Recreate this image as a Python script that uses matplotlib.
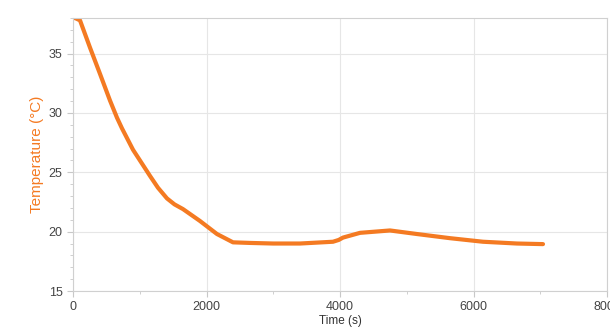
import matplotlib.pyplot as plt
from matplotlib.ticker import MultipleLocator

plt.rcParams['font.family'] = ['Liberation Sans', 'DejaVu Sans']

# time (s) and temperature (deg C)
time_s = [0, 30, 105, 255, 404, 554, 659, 734, 899, 1153, 1273, 1408, 1520,
          1648, 1902, 2157, 2397, 2651, 3000, 3400, 3895, 3980, 4045, 4300,
          4749, 5153, 5648, 6142, 6651, 7041]
temp_c = [38.0, 38.0, 37.8, 35.5, 33.3, 31.05, 29.6, 28.7, 26.9, 24.7, 23.7,
          22.8, 22.3, 21.9, 20.9, 19.8, 19.1, 19.05, 19.0, 19.0, 19.15, 19.3,
          19.5, 19.9, 20.1, 19.8, 19.45, 19.15, 19.0, 18.95]

fig = plt.figure(figsize=(6.1, 3.36), dpi=100)
ax = fig.add_axes([73 / 610, 45 / 336, 534 / 610, 273 / 336])

ax.plot(time_s, temp_c, color='#f47a22', lw=3,
        solid_capstyle='round', solid_joinstyle='round')

ax.set_xlim(0, 8000)
ax.set_ylim(15, 38)
ax.xaxis.set_major_locator(MultipleLocator(2000))
ax.xaxis.set_minor_locator(MultipleLocator(1000))
ax.yaxis.set_major_locator(MultipleLocator(5))
ax.yaxis.set_minor_locator(MultipleLocator(1))

ax.grid(True, which='major', color='#e6e6e6', lw=0.8)
for s in ax.spines.values():
    s.set_color('#d0d0d0')
ax.tick_params(which='both', colors='#c8c8c8', labelcolor='#444444', labelsize=9)
ax.tick_params(which='major', length=4)
ax.tick_params(which='minor', length=2)

ax.set_xlabel('Time (s)', fontsize=8.5, color='#333333', labelpad=1)
ax.set_ylabel('Temperature (°C)', fontsize=11, color='#f47a22', labelpad=3)

fig.savefig('out.png', dpi=100)
